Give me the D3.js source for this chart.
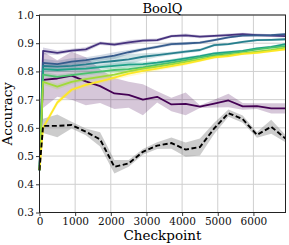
<!DOCTYPE html>
<html>
<head>
<meta charset="utf-8">
<script src="https://cdn.jsdelivr.net/npm/d3@7"></script>
<style>
  body { margin: 0; background: #fff; }
  svg { display: block; font-family: "DejaVu Serif", serif; }
</style>
</head>
<body>
<div id="chart"></div>
<script>
// checkpoints (x values)
let steps = [0, 100, 500, 900, 1300, 1700, 2100, 2500, 2900, 3300, 3700, 4100, 4500, 4900, 5300, 5700, 6100, 6500, 6900];

// one mean + spread array per run, darkest (viridis 0) to lightest (viridis 1)
let run0 = [0.45, 0.770, 0.775, 0.785, 0.765, 0.748, 0.722, 0.717, 0.700, 0.710, 0.683, 0.685, 0.675, 0.686, 0.697, 0.676, 0.677, 0.669, 0.669];
let run0Std = [0, 0.100, 0.065, 0.085, 0.085, 0.060, 0.055, 0.046, 0.055, 0.020, 0.024, 0.040, 0.005, 0.014, 0.024, 0.012, 0.010, 0.018, 0.018];
let run1 = [0.45, 0.873, 0.866, 0.874, 0.878, 0.900, 0.895, 0.903, 0.909, 0.911, 0.925, 0.928, 0.923, 0.926, 0.929, 0.932, 0.929, 0.927, 0.925];
let run1Std = [0, 0.012, 0.008, 0.006, 0.008, 0.006, 0.006, 0.008, 0.006, 0.006, 0.005, 0.006, 0.005, 0.005, 0.005, 0.005, 0.005, 0.005, 0.005];
let run2 = [0.45, 0.830, 0.826, 0.835, 0.840, 0.848, 0.856, 0.868, 0.878, 0.887, 0.897, 0.899, 0.902, 0.911, 0.921, 0.927, 0.928, 0.929, 0.932];
let run2Std = [0, 0.015, 0.012, 0.012, 0.010, 0.010, 0.012, 0.008, 0.006, 0.006, 0.006, 0.005, 0.005, 0.005, 0.004, 0.004, 0.004, 0.004, 0.004];
let run3 = [0.45, 0.820, 0.817, 0.820, 0.825, 0.832, 0.837, 0.843, 0.852, 0.858, 0.864, 0.870, 0.876, 0.893, 0.897, 0.905, 0.911, 0.912, 0.914];
let run3Std = [0, 0.010, 0.010, 0.012, 0.012, 0.015, 0.018, 0.018, 0.012, 0.008, 0.006, 0.006, 0.005, 0.005, 0.004, 0.004, 0.004, 0.004, 0.004];
let run4 = [0.45, 0.808, 0.805, 0.808, 0.810, 0.815, 0.820, 0.824, 0.826, 0.831, 0.838, 0.846, 0.854, 0.864, 0.868, 0.873, 0.882, 0.887, 0.897];
let run4Std = [0, 0.010, 0.008, 0.008, 0.008, 0.008, 0.010, 0.010, 0.008, 0.008, 0.006, 0.006, 0.005, 0.005, 0.005, 0.004, 0.004, 0.004, 0.004];
let run5 = [0.45, 0.789, 0.781, 0.787, 0.793, 0.799, 0.805, 0.808, 0.814, 0.823, 0.831, 0.840, 0.850, 0.858, 0.864, 0.870, 0.878, 0.884, 0.890];
let run5Std = [0, 0.010, 0.008, 0.008, 0.008, 0.008, 0.010, 0.010, 0.010, 0.008, 0.008, 0.006, 0.005, 0.005, 0.005, 0.004, 0.004, 0.004, 0.004];
let run6 = [0.45, 0.763, 0.746, 0.763, 0.773, 0.781, 0.789, 0.800, 0.810, 0.817, 0.825, 0.834, 0.843, 0.852, 0.858, 0.864, 0.870, 0.876, 0.884];
let run6Std = [0, 0.010, 0.010, 0.008, 0.008, 0.008, 0.010, 0.010, 0.010, 0.008, 0.008, 0.006, 0.005, 0.005, 0.005, 0.004, 0.004, 0.004, 0.004];
let run7 = [0.45, 0.600, 0.690, 0.735, 0.752, 0.765, 0.778, 0.792, 0.802, 0.810, 0.819, 0.828, 0.838, 0.850, 0.854, 0.862, 0.866, 0.872, 0.878];
let run7Std = [0, 0.010, 0.010, 0.008, 0.008, 0.008, 0.008, 0.010, 0.010, 0.008, 0.008, 0.006, 0.005, 0.005, 0.005, 0.004, 0.004, 0.004, 0.004];

// baseline (black dashed)
let base = [0.45, 0.607, 0.607, 0.610, 0.586, 0.559, 0.462, 0.474, 0.515, 0.537, 0.546, 0.523, 0.532, 0.598, 0.652, 0.631, 0.575, 0.604, 0.562];
let baseStd = [0, 0.025, 0.040, 0.012, 0.012, 0.025, 0.024, 0.012, 0.010, 0.012, 0.020, 0.025, 0.030, 0.020, 0.013, 0.013, 0.010, 0.025, 0.013];

let xTicks = [0, 1000, 2000, 3000, 4000, 5000, 6000];
let yTicks = [0.3, 0.4, 0.5, 0.6, 0.7, 0.8, 0.9, 1.0];
let title = 'BoolQ';
let xLabel = 'Checkpoint';
let yLabel = 'Accuracy';

let runs = [[run0, run0Std], [run1, run1Std], [run2, run2Std], [run3, run3Std],
            [run4, run4Std], [run5, run5Std], [run6, run6Std], [run7, run7Std]];

let width = 289, height = 245;
let mLeft = 39.5, mRight = 285.5, mTop = 15, mBottom = 212.5;

let x = d3.scaleLinear().domain([0, 6900]).range([mLeft, mRight]);
let y = d3.scaleLinear().domain([0.3, 1.0]).range([mBottom, mTop]);

let $svg = d3.select('#chart').append('svg')
    .attr('width', width)
    .attr('height', height);

// grid
$svg.append('g')
    .selectAll('line')
    .data(xTicks)
    .join('line')
    .attr('x1', d => x(d)).attr('x2', d => x(d))
    .attr('y1', mTop).attr('y2', mBottom)
    .attr('stroke', '#cfcfcf')
    .attr('stroke-width', 1);
$svg.append('g')
    .selectAll('line')
    .data(yTicks)
    .join('line')
    .attr('x1', mLeft).attr('x2', mRight)
    .attr('y1', d => y(d)).attr('y2', d => y(d))
    .attr('stroke', '#cfcfcf')
    .attr('stroke-width', 1);

let $plot = $svg.append('g');

let band = (mean, std) => d3.area()
    .x((d, i) => x(steps[i]))
    .y0((d, i) => y(mean[i] - std[i]))
    .y1((d, i) => y(mean[i] + std[i]))(mean);
let line = (mean) => d3.line()
    .x((d, i) => x(steps[i]))
    .y(d => y(d))(mean);

let color = (i) => d3.interpolateViridis(i / (runs.length - 1));

// bands first, then lines
runs.forEach(([mean, std], i) => {
    $plot.append('path')
        .attr('d', band(mean, std))
        .attr('fill', color(i))
        .attr('fill-opacity', 0.22);
});
$plot.append('path')
    .attr('d', band(base, baseStd))
    .attr('fill', '#808080')
    .attr('fill-opacity', 0.4);

runs.forEach(([mean], i) => {
    $plot.append('path')
        .attr('d', line(mean))
        .attr('fill', 'none')
        .attr('stroke', color(i))
        .attr('stroke-width', 1.8)
        .attr('stroke-linejoin', 'round');
});
$plot.append('path')
    .attr('d', line(base))
    .attr('fill', 'none')
    .attr('stroke', '#000')
    .attr('stroke-width', 1.9)
    .attr('stroke-dasharray', '5,2.6');

// axes
let xAxis = d3.axisBottom(x).tickValues(xTicks).tickSize(3.5).tickPadding(2).tickFormat(d3.format('d'));
let yAxis = d3.axisLeft(y).tickValues(yTicks).tickSize(3.5).tickPadding(2).tickFormat(d3.format('.1f'));

let $xa = $svg.append('g').attr('transform', `translate(0,${mBottom})`).call(xAxis);
let $ya = $svg.append('g').attr('transform', `translate(${mLeft},0)`).call(yAxis);
[$xa, $ya].forEach($a => {
    $a.select('.domain').remove();
    $a.selectAll('.tick line').attr('stroke', '#222').attr('stroke-width', 0.9);
    $a.selectAll('.tick text')
        .attr('fill', '#111')
        .style('font-family', '"DejaVu Serif", serif')
        .style('font-size', '10.5px');
});

// frame
$svg.append('rect')
    .attr('x', mLeft).attr('y', mTop)
    .attr('width', mRight - mLeft).attr('height', mBottom - mTop)
    .attr('fill', 'none')
    .attr('stroke', '#222')
    .attr('stroke-width', 1);

$svg.append('text')
    .attr('x', (mLeft + mRight) / 2).attr('y', 12.5)
    .attr('text-anchor', 'middle')
    .style('font-size', '13px')
    .text(title);
$svg.append('text')
    .attr('x', (mLeft + mRight) / 2).attr('y', 240)
    .attr('text-anchor', 'middle')
    .style('font-size', '13.5px')
    .text(xLabel);
$svg.append('text')
    .attr('transform', `translate(12,${(mTop + mBottom) / 2}) rotate(-90)`)
    .attr('text-anchor', 'middle')
    .style('font-size', '13.5px')
    .text(yLabel);
</script>
</body>
</html>
